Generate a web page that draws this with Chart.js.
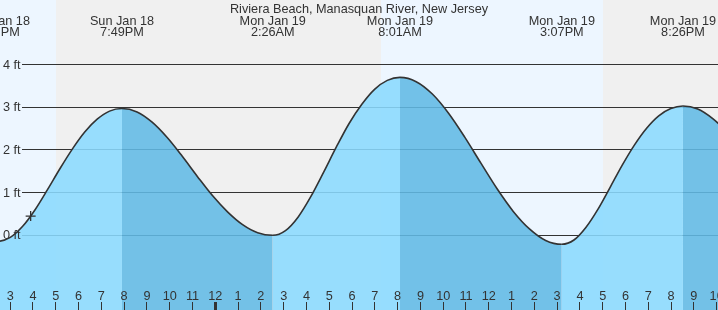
<!DOCTYPE html>
<html>
<head>
<meta charset="utf-8">
<script src="https://cdn.jsdelivr.net/npm/chart.js@4.4.1/dist/chart.umd.min.js"></script>
<style>
html,body{margin:0;padding:0;background:#fff;}
#wrap{width:718px;height:310px;position:relative;}
</style>
</head>
<body>
<div id="wrap"><canvas id="c" width="718" height="310"></canvas></div>
<script>
// ---- data (hours relative to midnight Mon Jan 19; feet) ----
const chartTitle = 'Riviera Beach, Manasquan River, New Jersey';
const tideHours = [
  -10.5, -9.63, -9.085, -8.541, -7.996, -7.451, -6.907, -6.362, -5.817, -5.272, -4.728, -4.183,
  -3.521, -2.860, -2.198, -1.537, -0.875, -0.213, 0.448, 1.110, 1.771, 2.433,
  2.991, 3.550, 4.108, 4.667, 5.225, 5.783, 6.342, 6.900, 7.459, 8.017,
  8.727, 9.437, 10.147, 10.857, 11.567, 12.277, 12.987, 13.697, 14.407, 15.117,
  15.649, 16.180, 16.712, 17.243, 17.775, 18.307, 18.838, 19.370, 19.901, 20.433,
  21.080, 21.726, 22.373, 23.020
];
const tideFeet = [
  0.03, -0.14, -0.05, 0.21, 0.60, 1.07, 1.56, 2.02, 2.42, 2.72, 2.91, 2.97,
  2.89, 2.65, 2.29, 1.85, 1.38, 0.93, 0.55, 0.25, 0.06, 0.0,
  0.11, 0.43, 0.91, 1.48, 2.07, 2.62, 3.07, 3.42, 3.63, 3.70,
  3.60, 3.31, 2.86, 2.30, 1.69, 1.09, 0.56, 0.15, -0.12, -0.21,
  -0.11, 0.19, 0.62, 1.13, 1.65, 2.12, 2.51, 2.80, 2.97, 3.03,
  2.96, 2.74, 2.41, 1.98
];
const extremeHours = [-9.63, -4.183, 2.433, 8.017, 15.117, 20.433];
const extremeDays  = ['Sun Jan 18', 'Sun Jan 18', 'Mon Jan 19', 'Mon Jan 19', 'Mon Jan 19', 'Mon Jan 19'];
const extremeTimes = ['2:22PM', '7:49PM', '2:26AM', '8:01AM', '3:07PM', '8:26PM'];
const nowHours = [-8.19];
const nowFeet  = [0.45];
const dayFrom = [-12, 7.18];
const dayTo   = [-7.08, 16.92];
const yTickFeet = [0, 1, 2, 3, 4];
const yTickLabels = ['0 ft', '1 ft', '2 ft', '3 ft', '4 ft'];
const xTickHours = [-10,-9,-8,-7,-6,-5,-4,-3,-2,-1,0,1,2,3,4,5,6,7,8,9,10,11,12,13,14,15,16,17,18,19,20,21,22];
const xTickLabels = ['2','3','4','5','6','7','8','9','10','11','12','1','2','3','4','5','6','7','8','9','10','11','12','1','2','3','4','5','6','7','8','9','10'];

// ---- styles ----
const FONT = '12.7px "Liberation Sans", Arial, sans-serif';
const TXT = '#333';
const NIGHT = '#f0f0f0';
const DAY = '#edf6ff';
const LIGHT = 'rgba(138,217,254,0.88)';
const DARK = 'rgba(97,185,229,0.88)';
const TICK_SHIFT = -0.088;

const decor = {
  id: 'decor',
  beforeDraw(chart) {
    const {ctx, chartArea: a, scales: {x, y}} = chart;
    ctx.save();
    ctx.fillStyle = NIGHT;
    ctx.fillRect(a.left, a.top, a.right - a.left, a.bottom - a.top);
    ctx.fillStyle = DAY;
    for (let i = 0; i < dayFrom.length; i++) {
      const x1 = Math.max(a.left, Math.round(x.getPixelForValue(dayFrom[i])));
      const x2 = Math.min(a.right, Math.round(x.getPixelForValue(dayTo[i])));
      if (x2 > x1) ctx.fillRect(x1, a.top, x2 - x1, a.bottom - a.top);
    }
    ctx.strokeStyle = '#333';
    ctx.lineWidth = 1;
    for (const v of yTickFeet) {
      const py = Math.floor(y.getPixelForValue(v)) + 0.5;
      ctx.beginPath();
      ctx.moveTo(22, py);
      ctx.lineTo(a.right, py);
      ctx.stroke();
    }
    ctx.restore();
  },
  afterDatasetsDraw(chart) {
    const {ctx, chartArea: a, scales: {x, y}} = chart;
    ctx.save();
    ctx.font = FONT;
    ctx.fillStyle = TXT;
    ctx.textAlign = 'left';
    ctx.textBaseline = 'middle';
    for (let i = 0; i < yTickFeet.length; i++) {
      ctx.fillText(yTickLabels[i], 3, y.getPixelForValue(yTickFeet[i]) + 0.5);
    }
    ctx.textAlign = 'center';
    ctx.textBaseline = 'alphabetic';
    ctx.strokeStyle = '#333';
    for (let i = 0; i < xTickHours.length; i++) {
      const px = x.getPixelForValue(xTickHours[i] + TICK_SHIFT);
      ctx.fillText(xTickLabels[i], px, 300);
      ctx.beginPath();
      ctx.lineWidth = (xTickHours[i] % 24 === 0) ? 3 : 1;
      ctx.moveTo(Math.floor(px) + 0.5, 302);
      ctx.lineTo(Math.floor(px) + 0.5, a.bottom);
      ctx.stroke();
    }
    ctx.fillText(chartTitle, (a.left + a.right) / 2, 12.5);
    for (let i = 0; i < extremeHours.length; i++) {
      const px = x.getPixelForValue(extremeHours[i]);
      ctx.fillText(extremeDays[i], px, 24.5);
      ctx.fillText(extremeTimes[i], px, 36);
    }
    ctx.restore();
  }
};

const tidePoints = tideHours.map((h, i) => ({x: h, y: tideFeet[i]}));
const nowPoints = nowHours.map((h, i) => ({x: h, y: nowFeet[i]}));

new Chart(document.getElementById('c'), {
  type: 'line',
  data: {
    datasets: [
      {
        data: nowPoints,
        showLine: false,
        pointStyle: 'cross',
        pointRadius: 5,
        borderColor: '#333',
        borderWidth: 1.3,
        fill: false
      },
      {
        data: tidePoints,
        borderColor: '#333',
        borderWidth: 1.6,
        pointRadius: 0,
        fill: 'start',
        cubicInterpolationMode: 'monotone',
        backgroundColor: LIGHT,
        segment: {
          backgroundColor: c => (c.p1.parsed.y < c.p0.parsed.y ? DARK : LIGHT)
        }
      }
    ]
  },
  options: {
    responsive: false,
    animation: false,
    events: [],
    layout: {padding: 0, autoPadding: false},
    scales: {
      x: {type: 'linear', min: -9.535, max: 21.97, display: false},
      y: {type: 'linear', min: -1.751, max: 5.514, display: false}
    },
    plugins: {legend: {display: false}, tooltip: {enabled: false}, title: {display: false}}
  },
  plugins: [decor]
});
</script>
</body>
</html>
